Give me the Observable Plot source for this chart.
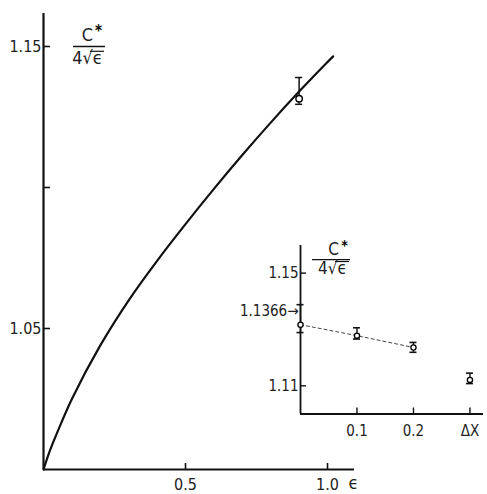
<!DOCTYPE html>
<html><head><meta charset="utf-8">
<script src="https://cdn.jsdelivr.net/npm/d3@7"></script>
<script src="https://cdn.jsdelivr.net/npm/@observablehq/plot@0.6"></script>
<style>
body{margin:0;background:#fff}
#wrap{position:relative;width:487px;height:494px;background:#fff}
#wrap svg{position:absolute;left:0;top:0;}
</style></head><body><div id="wrap"></div>
<script>
// ---- main chart data ----
const curveEps = [0, 0.02, 0.05, 0.1, 0.2, 0.3, 0.4, 0.5, 0.6, 0.7, 0.8, 0.9, 1.0, 1.02];
const curveC   = [1.0, 1.006, 1.0135, 1.025, 1.044, 1.060, 1.074, 1.087, 1.0995, 1.1115, 1.123, 1.134, 1.1445, 1.1465];
const mainPointEps = [0.9];
const mainPointC = [1.1315];
const mainErrLow = [1.1295];
const mainErrHigh = [1.139];
const mainYTicks = [1.05, 1.10, 1.15];
const mainYTickLabels = ["1.05", "", "1.15"];
const mainXTicks = [0.5, 1.0];
const mainXTickLabels = ["0.5", "1.0"];

// ---- inset data ----
const insetX = [0, 0.1, 0.2, 0.3];
const insetC = [1.1317, 1.1278, 1.1236, 1.1121];
const insetErrLow = [1.1289, 1.1266, 1.1219, 1.1108];
const insetErrHigh = [1.1388, 1.1306, 1.1254, 1.1145];
const insetFitCount = 3; // dashed line joins the first three points
const insetYTicks = [1.11, 1.15];
const insetYTickLabels = ["1.11", "1.15"];
const insetXTicks = [0.1, 0.2, 0.3];
const insetXTickLabels = ["0.1", "0.2", "ΔX"];
const extrapolatedValue = [1.1366];

const FONT = '"DejaVu Sans Condensed", "Liberation Sans Narrow", "DejaVu Sans", sans-serif';
const W = 487, H = 494;

const curve = curveEps.map((e, i) => ({x: e, y: curveC[i]}));
const mainPts = mainPointEps.map((e, i) => ({x: e, y: mainPointC[i], lo: mainErrLow[i], hi: mainErrHigh[i]}));

// main scale geometry
const mX = {ml: 43, mr: 133, dom: [0, 1.095]};
const mY = {mt: 13, mb: 25, dom: [1.0, 1.1617]};
const mxPx = (W - mX.ml - mX.mr) / (mX.dom[1] - mX.dom[0]);
const myPx = (H - mY.mt - mY.mb) / (mY.dom[1] - mY.dom[0]);

const main = Plot.plot({
  width: W, height: H,
  marginLeft: mX.ml, marginRight: mX.mr, marginTop: mY.mt, marginBottom: mY.mb,
  x: {domain: mX.dom, axis: null},
  y: {domain: mY.dom, axis: null},
  style: {fontFamily: FONT, fontSize: "16px", background: "transparent", color: "#111"},
  marks: [
    Plot.ruleX([0], {y1: mY.dom[0], y2: mY.dom[1], strokeWidth: 2.2}),
    Plot.ruleY([1.0], {x1: 0, x2: mX.dom[1], strokeWidth: 2.2}),
    Plot.ruleY(mainYTicks, {y: d => d, x1: 0, x2: 7 / mxPx, strokeWidth: 1.6}),
    Plot.text(mainYTicks, {x: 0, y: d => d, text: (d, i) => mainYTickLabels[i], textAnchor: "end", dx: -2, fill: "#222"}),
    Plot.ruleX(mainXTicks, {x: d => d, y1: 1.0, y2: 1.0 + 6 / myPx, strokeWidth: 1.6}),
    Plot.text(mainXTicks, {x: d => d, y: 1.0, text: (d, i) => mainXTickLabels[i], dy: 15, fill: "#222"}),
    Plot.text(["ϵ"], {x: 1.0, y: 1.0, dx: 26, dy: 14, fontSize: 18, fill: "#222"}),
    // fraction label
    Plot.text(["C"], {x: (87 - 43) / mxPx, y: 1.1539, fontSize: 18, fill: "#222"}),
    Plot.text(["*"], {x: (98 - 43) / mxPx, y: 1.1555, fontSize: 15, fontWeight: "bold", fill: "#000"}),
    Plot.ruleY([1.150], {x1: (73 - 43) / mxPx, x2: (105 - 43) / mxPx, strokeWidth: 1.5}),
    Plot.text(["4√ϵ"], {x: (87 - 43) / mxPx, y: 1.1457, fontSize: 18, fill: "#222"}),
    Plot.ruleY([1.1483], {x1: (90 - 43) / mxPx, x2: (104 - 43) / mxPx, strokeWidth: 1.2}),
    // curve
    Plot.line(curve, {x: "x", y: "y", curve: "catmull-rom", strokeWidth: 2.2}),
    // data point with error bar
    Plot.ruleX(mainPts, {x: "x", y1: "lo", y2: "hi", strokeWidth: 1.5}),
    Plot.ruleY(mainPts, {y: "hi", x1: d => d.x - 3.5 / mxPx, x2: d => d.x + 3.5 / mxPx, strokeWidth: 1.5}),
    Plot.ruleY(mainPts, {y: "lo", x1: d => d.x - 3.5 / mxPx, x2: d => d.x + 3.5 / mxPx, strokeWidth: 1.5}),
    Plot.dot(mainPts, {x: "x", y: "y", r: 3.2, fill: "white", stroke: "black", strokeWidth: 1.4})
  ]
});

// inset
const insetPts = insetX.map((x, i) => ({x, y: insetC[i], lo: insetErrLow[i], hi: insetErrHigh[i]}));
const iX = {ml: 300, mr: 4, dom: [0, 0.324]};
const iY = {mt: 245, mb: 80.5, dom: [1.10, 1.1598]};
const ixPx = (W - iX.ml - iX.mr) / (iX.dom[1] - iX.dom[0]);
const iyPx = (H - iY.mt - iY.mb) / (iY.dom[1] - iY.dom[0]);

const inset = Plot.plot({
  width: W, height: H,
  marginLeft: iX.ml, marginRight: iX.mr, marginTop: iY.mt, marginBottom: iY.mb,
  x: {domain: iX.dom, axis: null},
  y: {domain: iY.dom, axis: null},
  style: {fontFamily: FONT, fontSize: "15px", background: "transparent", color: "#111"},
  marks: [
    Plot.ruleX([0], {y1: iY.dom[0], y2: iY.dom[1], strokeWidth: 1.8}),
    Plot.ruleY([1.10], {x1: 0, x2: iX.dom[1], strokeWidth: 1.8}),
    Plot.ruleY(insetYTicks, {y: d => d, x1: 0, x2: 6 / ixPx, strokeWidth: 1.4}),
    Plot.text(insetYTicks, {x: 0, y: d => d, text: (d, i) => insetYTickLabels[i], textAnchor: "end", dx: -2, fill: "#222"}),
    Plot.text(extrapolatedValue, {x: 0, y: d => d, text: d => d.toFixed(4) + "→", textAnchor: "end", dx: -2, fill: "#222"}),
    Plot.ruleX(insetXTicks, {x: d => d, y1: 1.10, y2: 1.10 + 6 / iyPx, strokeWidth: 1.4}),
    Plot.text(insetXTicks, {x: d => d, y: 1.10, text: (d, i) => insetXTickLabels[i], dy: 17, fill: "#222"}),
    // fraction label
    Plot.text(["C"], {x: (333 - 300) / ixPx, y: 1.1583, fontSize: 17, fill: "#222"}),
    Plot.text(["*"], {x: (344 - 300) / ixPx, y: 1.1598, fontSize: 14, fontWeight: "bold", fill: "#000"}),
    Plot.ruleY([1.1548], {x1: (312 - 300) / ixPx, x2: (350 - 300) / ixPx, strokeWidth: 1.4}),
    Plot.text(["4√ϵ"], {x: (332 - 300) / ixPx, y: 1.1515, fontSize: 17, fill: "#222"}),
    Plot.ruleY([1.1541], {x1: (335 - 300) / ixPx, x2: (349 - 300) / ixPx, strokeWidth: 1.1}),
    // dashed fit
    Plot.line(insetPts.slice(0, insetFitCount), {x: "x", y: "y", strokeDasharray: "3,3", strokeWidth: 1, stroke: "#444"}),
    // error bars
    Plot.ruleX(insetPts, {x: "x", y1: "lo", y2: "hi", strokeWidth: 1.4}),
    Plot.ruleY(insetPts, {y: "hi", x1: d => d.x - 3.5 / ixPx, x2: d => d.x + 3.5 / ixPx, strokeWidth: 1.6}),
    Plot.ruleY(insetPts, {y: "lo", x1: d => d.x - 3.5 / ixPx, x2: d => d.x + 3.5 / ixPx, strokeWidth: 1.6}),
    Plot.dot(insetPts, {x: "x", y: "y", r: 2.6, fill: "white", stroke: "black", strokeWidth: 1.3})
  ]
});

const wrap = document.getElementById("wrap");
wrap.appendChild(main);
wrap.appendChild(inset);
</script>
</body></html>
